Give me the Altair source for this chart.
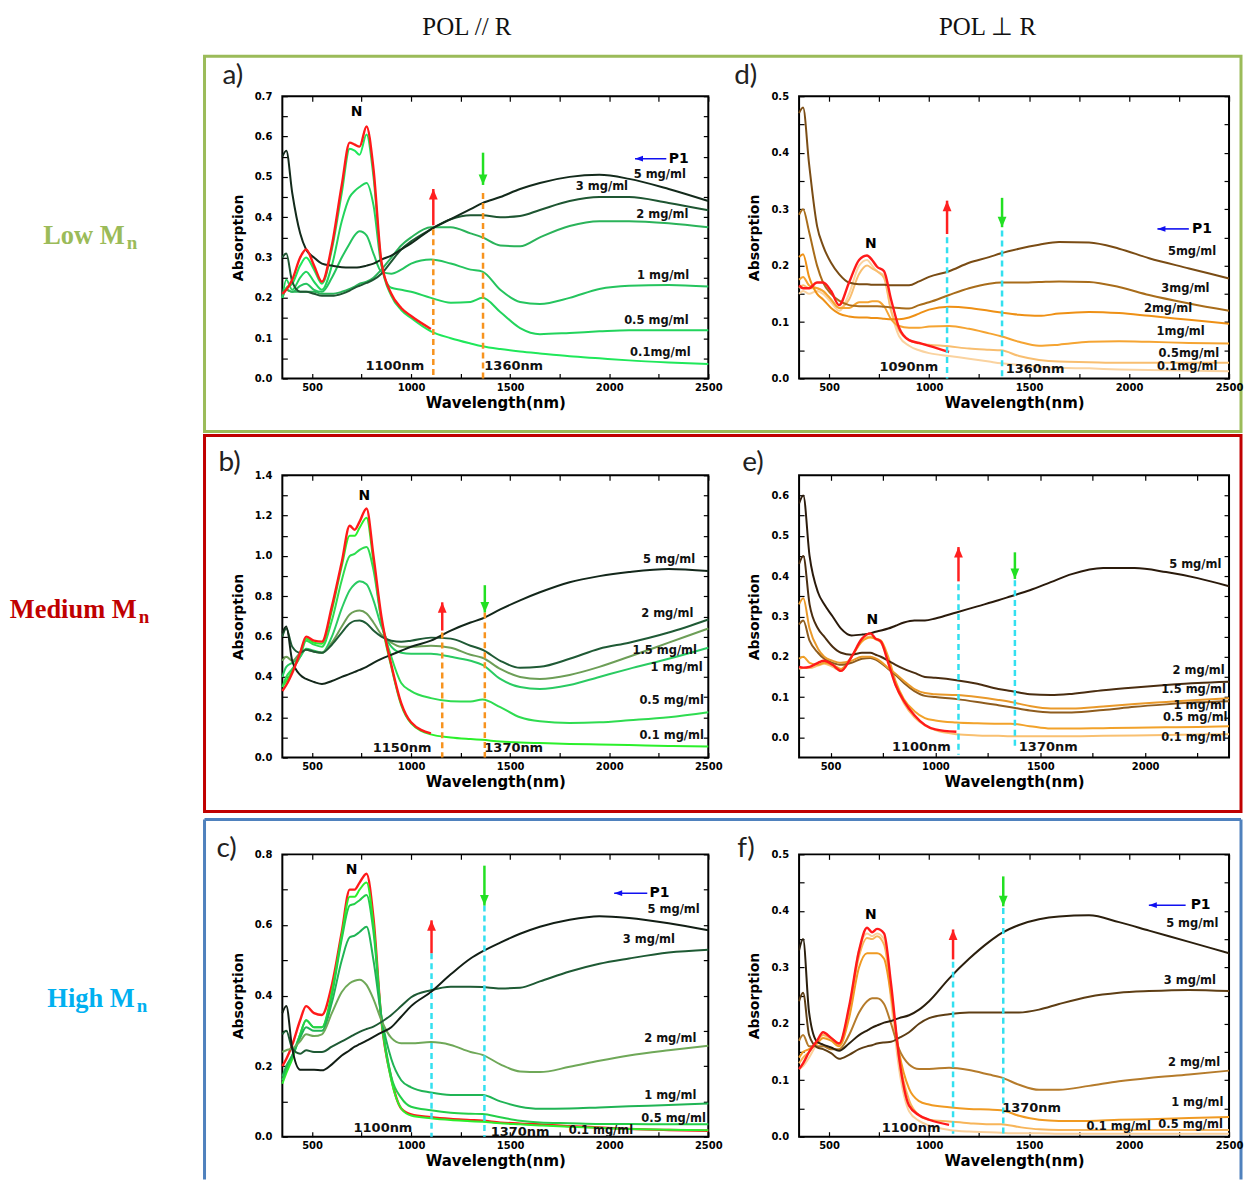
import altair as alt
import pandas as pd

# ---------------- wavelength grids ----------------
G = [350, 370, 400, 440, 470, 510, 550, 600, 650, 690, 715, 740, 775, 810, 850, 900, 950, 1000,
     1100, 1200, 1300, 1360, 1450, 1550, 1650, 1800, 1950, 2100, 2300, 2500]
GE = [350, 370, 400, 440, 470, 510, 550, 600, 650, 690, 715, 740, 775, 810, 850, 900, 950, 1000,
      1100, 1200, 1300, 1360, 1450, 1550, 1650, 1800, 1950, 2100, 2250, 2400]

# ---------------- panel a (Low Mn, POL // R) ----------------
A_NAMES = ["0.1 mg/ml", "0.5 mg/ml", "1 mg/ml", "2 mg/ml", "3 mg/ml", "5 mg/ml"]
A_RED = [0.21, 0.22, 0.245, 0.30, 0.32, 0.28, 0.24, 0.33, 0.48, 0.585, 0.58, 0.575, 0.625, 0.52, 0.29, 0.21, 0.175, 0.155, 0.123]
A_01 = [0.2, 0.225, 0.235, 0.28, 0.3, 0.27, 0.235, 0.32, 0.46, 0.57, 0.565, 0.555, 0.605, 0.5, 0.285, 0.205, 0.17, 0.15, 0.117, 0.1, 0.087, 0.08, 0.073, 0.067, 0.062, 0.055, 0.05, 0.045, 0.04, 0.036]
A_05 = [0.2, 0.245, 0.22, 0.25, 0.265, 0.24, 0.22, 0.28, 0.39, 0.45, 0.465, 0.475, 0.485, 0.43, 0.28, 0.225, 0.22, 0.215, 0.2, 0.188, 0.19, 0.2, 0.165, 0.125, 0.11, 0.113, 0.117, 0.12, 0.12, 0.12]
A_1 = [0.2, 0.22, 0.215, 0.23, 0.235, 0.22, 0.215, 0.25, 0.3, 0.335, 0.355, 0.365, 0.355, 0.31, 0.265, 0.26, 0.27, 0.285, 0.295, 0.285, 0.27, 0.265, 0.22, 0.19, 0.185, 0.2, 0.222, 0.23, 0.232, 0.228]
A_2 = [0.21, 0.22, 0.215, 0.215, 0.215, 0.215, 0.21, 0.21, 0.215, 0.222, 0.228, 0.235, 0.24, 0.25, 0.27, 0.3, 0.33, 0.35, 0.375, 0.375, 0.36, 0.35, 0.33, 0.328, 0.35, 0.378, 0.39, 0.39, 0.385, 0.375]
A_3 = [0.3, 0.31, 0.24, 0.215, 0.215, 0.21, 0.205, 0.205, 0.21, 0.218, 0.225, 0.23, 0.237, 0.245, 0.26, 0.29, 0.32, 0.34, 0.37, 0.395, 0.405, 0.405, 0.4, 0.403, 0.418, 0.44, 0.45, 0.45, 0.435, 0.417]
A_5 = [0.55, 0.565, 0.46, 0.36, 0.32, 0.3, 0.285, 0.28, 0.276, 0.275, 0.275, 0.276, 0.28, 0.285, 0.295, 0.305, 0.32, 0.335, 0.37, 0.395, 0.42, 0.435, 0.45, 0.47, 0.485, 0.5, 0.505, 0.495, 0.47, 0.44]
A_COLORS = ["#1FE85A", "#22D45C", "#25C45E", "#2BB35A", "#1E5632", "#132A1B"]

# ---------------- panel d (Low Mn, POL perp R) ----------------
D_NAMES = ["0.1mg/ml", "0.5mg/ml", "1mg/ml", "2mg/ml", "3mg/ml", "5mg/ml"]
D_RED = [0.165, 0.16, 0.16, 0.17, 0.17, 0.155, 0.13, 0.17, 0.21, 0.218, 0.21, 0.198, 0.19, 0.14, 0.09, 0.068, 0.063, 0.058, 0.047]
D_01 = [0.15, 0.155, 0.15, 0.155, 0.15, 0.135, 0.12, 0.15, 0.2, 0.21, 0.2, 0.19, 0.182, 0.12, 0.075, 0.058, 0.05, 0.045, 0.04, 0.035, 0.03, 0.027, 0.024, 0.021, 0.019, 0.018, 0.016, 0.015, 0.014, 0.013]
D_05 = [0.16, 0.165, 0.16, 0.16, 0.155, 0.14, 0.125, 0.14, 0.185, 0.2, 0.195, 0.19, 0.178, 0.12, 0.085, 0.068, 0.062, 0.06, 0.057, 0.053, 0.051, 0.05, 0.04, 0.033, 0.03, 0.029, 0.028, 0.028, 0.028, 0.028]
D_1 = [0.175, 0.18, 0.165, 0.16, 0.155, 0.14, 0.125, 0.125, 0.135, 0.135, 0.137, 0.137, 0.128, 0.105, 0.093, 0.09, 0.09, 0.092, 0.093, 0.088, 0.08, 0.075, 0.065, 0.058, 0.06, 0.065, 0.066, 0.065, 0.063, 0.062]
D_2 = [0.215, 0.22, 0.18, 0.15, 0.14, 0.125, 0.115, 0.11, 0.108, 0.108, 0.107, 0.107, 0.106, 0.105, 0.105, 0.108, 0.115, 0.122, 0.127, 0.125, 0.12, 0.117, 0.113, 0.111, 0.115, 0.118, 0.116, 0.111, 0.104, 0.097]
D_3 = [0.29, 0.3, 0.26, 0.2, 0.17, 0.15, 0.138, 0.13, 0.128, 0.128, 0.128, 0.128, 0.127, 0.126, 0.125, 0.124, 0.13, 0.135, 0.148, 0.16, 0.168, 0.17, 0.17, 0.171, 0.172, 0.171, 0.162, 0.148, 0.133, 0.12]
D_5 = [0.47, 0.48, 0.38, 0.27, 0.235, 0.205, 0.185, 0.17, 0.167, 0.167, 0.166, 0.166, 0.166, 0.165, 0.165, 0.165, 0.172, 0.18, 0.19, 0.205, 0.215, 0.222, 0.23, 0.237, 0.242, 0.241, 0.23, 0.213, 0.195, 0.177]
D_COLORS = ["#FAD3A0", "#F8BE70", "#F5A432", "#EE9015", "#A86C1A", "#7A4C14"]

# ---------------- panel b (Medium Mn, POL // R) ----------------
B_NAMES = ["0.1 mg/ml", "0.5 mg/ml", "1 mg/ml", "1.5 mg/ml", "2 mg/ml", "5 mg/ml"]
B_RED = [0.33, 0.36, 0.42, 0.52, 0.6, 0.58, 0.575, 0.75, 0.97, 1.15, 1.13, 1.17, 1.235, 1.0, 0.7, 0.46, 0.27, 0.175, 0.12]
B_01 = [0.35, 0.38, 0.43, 0.52, 0.59, 0.57, 0.565, 0.73, 0.95, 1.1, 1.1, 1.14, 1.19, 0.97, 0.68, 0.45, 0.26, 0.17, 0.115, 0.1, 0.092, 0.088, 0.08, 0.075, 0.072, 0.068, 0.065, 0.062, 0.058, 0.055]
B_05 = [0.35, 0.4, 0.44, 0.5, 0.58, 0.56, 0.55, 0.68, 0.88, 1.0, 1.01, 1.03, 1.045, 0.93, 0.68, 0.5, 0.37, 0.33, 0.295, 0.28, 0.278, 0.288, 0.25, 0.2, 0.18, 0.172, 0.175, 0.185, 0.2, 0.225]
B_1 = [0.4, 0.45, 0.47, 0.5, 0.54, 0.53, 0.52, 0.6, 0.74, 0.83, 0.86, 0.875, 0.86, 0.78, 0.65, 0.55, 0.52, 0.515, 0.515, 0.5, 0.48, 0.46, 0.39, 0.35, 0.34, 0.36, 0.4, 0.44, 0.49, 0.545]
B_15 = [0.48, 0.5, 0.48, 0.52, 0.535, 0.525, 0.52, 0.57, 0.65, 0.71, 0.725, 0.73, 0.715, 0.67, 0.61, 0.57, 0.55, 0.55, 0.555, 0.545, 0.51, 0.495, 0.44, 0.4, 0.39, 0.41, 0.45, 0.5, 0.57, 0.64]
B_2 = [0.6, 0.64, 0.55, 0.52, 0.535, 0.525, 0.52, 0.56, 0.62, 0.665, 0.678, 0.68, 0.665, 0.63, 0.6, 0.58, 0.575, 0.58, 0.595, 0.59, 0.555, 0.535, 0.48, 0.445, 0.45, 0.49, 0.54, 0.57, 0.62, 0.685]
B_5 = [0.62, 0.65, 0.48, 0.41, 0.39, 0.375, 0.365, 0.38, 0.4, 0.415, 0.425, 0.435, 0.45, 0.47, 0.49, 0.51, 0.53, 0.55, 0.58, 0.63, 0.67, 0.69, 0.735, 0.78, 0.82, 0.87, 0.9, 0.92, 0.935, 0.925]
B_COLORS = ["#2BF02B", "#2EDC50", "#2ACB62", "#6D9E57", "#1F5A35", "#13271A"]

# ---------------- panel e (Medium Mn, POL perp R) ----------------
E_NAMES = ["0.1 mg/ml", "0.5 mg/ml", "1 mg/ml", "1.5 mg/ml", "2 mg/ml", "5 mg/ml"]
E_RED = [0.175, 0.173, 0.175, 0.185, 0.19, 0.18, 0.165, 0.2, 0.245, 0.258, 0.245, 0.238, 0.185, 0.13, 0.09, 0.055, 0.031, 0.02, 0.014]
E_01 = [0.17, 0.172, 0.172, 0.178, 0.183, 0.175, 0.165, 0.2, 0.24, 0.25, 0.243, 0.235, 0.19, 0.13, 0.085, 0.05, 0.03, 0.018, 0.008, 0.005, 0.004, 0.003, 0.003, 0.003, 0.003, 0.004, 0.005, 0.006, 0.007, 0.008]
E_05 = [0.195, 0.2, 0.185, 0.18, 0.185, 0.18, 0.17, 0.2, 0.238, 0.248, 0.245, 0.24, 0.2, 0.14, 0.095, 0.065, 0.048, 0.042, 0.037, 0.035, 0.034, 0.034, 0.028, 0.022, 0.022, 0.023, 0.024, 0.025, 0.026, 0.028]
E_1 = [0.28, 0.29, 0.24, 0.21, 0.195, 0.185, 0.18, 0.185, 0.195, 0.197, 0.193, 0.185, 0.17, 0.155, 0.135, 0.115, 0.103, 0.1, 0.095, 0.088, 0.08, 0.075, 0.067, 0.062, 0.062, 0.068, 0.076, 0.082, 0.087, 0.09]
E_15 = [0.33, 0.345, 0.27, 0.22, 0.2, 0.19, 0.185, 0.19, 0.2, 0.2, 0.196, 0.188, 0.172, 0.158, 0.14, 0.12, 0.11, 0.107, 0.105, 0.1, 0.093, 0.088, 0.078, 0.072, 0.072, 0.077, 0.083, 0.088, 0.093, 0.097]
E_2 = [0.43, 0.45, 0.33, 0.27, 0.25, 0.225, 0.21, 0.205, 0.21, 0.21, 0.205, 0.2, 0.19, 0.18, 0.17, 0.16, 0.15, 0.148, 0.142, 0.133, 0.12, 0.115, 0.107, 0.105, 0.108, 0.117, 0.124, 0.13, 0.135, 0.138]
E_5 = [0.58, 0.6, 0.45, 0.36, 0.33, 0.3, 0.27, 0.253, 0.255, 0.258, 0.262, 0.265, 0.27, 0.277, 0.285, 0.29, 0.29, 0.295, 0.31, 0.325, 0.34, 0.35, 0.365, 0.385, 0.405, 0.42, 0.42, 0.41, 0.395, 0.375]
E_COLORS = ["#F9C070", "#F2A22A", "#8E5C1E", "#E9992A", "#4A2D10", "#2A1A0B"]

# ---------------- panel c (High Mn, POL // R) ----------------
C_NAMES = ["0.1 mg/ml", "0.5 mg/ml", "1 mg/ml", "2 mg/ml", "3 mg/ml", "5 mg/ml"]
C_RED = [0.2, 0.22, 0.26, 0.33, 0.37, 0.35, 0.345, 0.43, 0.58, 0.7, 0.7, 0.72, 0.745, 0.62, 0.33, 0.165, 0.08, 0.063, 0.055, 0.05, 0.047, 0.045, 0.04, 0.037, 0.035, 0.03, 0.026, 0.022, 0.019, 0.017]
C_01 = [0.15, 0.18, 0.22, 0.29, 0.33, 0.31, 0.31, 0.41, 0.57, 0.68, 0.68, 0.7, 0.72, 0.6, 0.33, 0.16, 0.08, 0.06, 0.052, 0.047, 0.044, 0.042, 0.038, 0.035, 0.032, 0.028, 0.025, 0.022, 0.02, 0.018]
C_05 = [0.16, 0.19, 0.23, 0.29, 0.33, 0.31, 0.31, 0.4, 0.56, 0.655, 0.66, 0.67, 0.685, 0.58, 0.34, 0.17, 0.11, 0.085, 0.075, 0.068, 0.065, 0.064, 0.055, 0.045, 0.04, 0.038, 0.036, 0.036, 0.035, 0.035]
C_1 = [0.17, 0.2, 0.23, 0.28, 0.31, 0.3, 0.3, 0.38, 0.5, 0.565, 0.57, 0.58, 0.595, 0.5, 0.34, 0.22, 0.16, 0.14, 0.125, 0.118, 0.118, 0.118, 0.1, 0.085, 0.079, 0.08, 0.083, 0.086, 0.09, 0.094]
C_2 = [0.24, 0.245, 0.25, 0.27, 0.29, 0.285, 0.29, 0.35, 0.41, 0.435, 0.442, 0.445, 0.43, 0.39, 0.33, 0.28, 0.265, 0.265, 0.268, 0.26, 0.24, 0.232, 0.205, 0.185, 0.183, 0.198, 0.215, 0.23, 0.245, 0.258]
C_3 = [0.29, 0.3, 0.25, 0.235, 0.245, 0.24, 0.24, 0.255, 0.27, 0.282, 0.29, 0.297, 0.305, 0.312, 0.325, 0.345, 0.37, 0.395, 0.415, 0.425, 0.425, 0.424, 0.42, 0.422, 0.44, 0.468, 0.49, 0.505, 0.522, 0.53]
C_5 = [0.35, 0.37, 0.25, 0.19, 0.19, 0.19, 0.188, 0.205, 0.23, 0.245, 0.255, 0.262, 0.272, 0.283, 0.295, 0.31, 0.34, 0.37, 0.41, 0.46, 0.505, 0.525, 0.55, 0.575, 0.595, 0.615, 0.625, 0.62, 0.605, 0.585]
C_COLORS = ["#2BF02B", "#23CF48", "#20B455", "#6FA858", "#1E5A34", "#121E15"]

# ---------------- panel f (High Mn, POL perp R) ----------------
F_NAMES = ["0.1 mg/ml", "0.5 mg/ml", "1 mg/ml", "2 mg/ml", "3 mg/ml", "5 mg/ml"]
F_RED = [0.12, 0.13, 0.15, 0.17, 0.185, 0.175, 0.165, 0.23, 0.33, 0.37, 0.362, 0.368, 0.36, 0.27, 0.14, 0.055, 0.038, 0.03, 0.021]
F_01 = [0.12, 0.125, 0.14, 0.165, 0.18, 0.172, 0.162, 0.225, 0.33, 0.36, 0.355, 0.36, 0.35, 0.24, 0.12, 0.045, 0.028, 0.02, 0.012, 0.009, 0.008, 0.007, 0.006, 0.006, 0.005, 0.005, 0.005, 0.005, 0.005, 0.005]
F_05 = [0.13, 0.14, 0.15, 0.17, 0.18, 0.175, 0.165, 0.225, 0.32, 0.352, 0.35, 0.355, 0.34, 0.26, 0.14, 0.065, 0.038, 0.03, 0.027, 0.024, 0.022, 0.022, 0.017, 0.013, 0.012, 0.012, 0.012, 0.012, 0.012, 0.012]
F_1 = [0.14, 0.15, 0.155, 0.165, 0.175, 0.17, 0.16, 0.21, 0.3, 0.325, 0.325, 0.325, 0.315, 0.25, 0.15, 0.085, 0.063, 0.057, 0.052, 0.049, 0.048, 0.047, 0.037, 0.03, 0.028, 0.028, 0.03, 0.031, 0.033, 0.035]
F_2 = [0.17, 0.18, 0.16, 0.16, 0.16, 0.155, 0.155, 0.18, 0.22, 0.24, 0.245, 0.245, 0.235, 0.2, 0.155, 0.128, 0.12, 0.12, 0.122, 0.118, 0.11, 0.105, 0.092, 0.083, 0.083, 0.09, 0.098, 0.104, 0.11, 0.117]
F_3 = [0.24, 0.255, 0.18, 0.158, 0.155, 0.148, 0.138, 0.145, 0.155, 0.16, 0.162, 0.165, 0.167, 0.168, 0.175, 0.185, 0.2, 0.21, 0.217, 0.22, 0.22, 0.22, 0.22, 0.225, 0.235, 0.248, 0.255, 0.258, 0.26, 0.258]
F_5 = [0.33, 0.35, 0.22, 0.168, 0.163, 0.158, 0.152, 0.165, 0.18, 0.188, 0.193, 0.197, 0.202, 0.205, 0.21, 0.215, 0.225, 0.24, 0.28, 0.315, 0.345, 0.36, 0.375, 0.385, 0.39, 0.392, 0.38, 0.365, 0.345, 0.325]
F_COLORS = ["#FAD09A", "#F7B55A", "#F09A22", "#B57B2B", "#5E3E14", "#2B1F0D"]

# ---------------- annotations (data coordinates) ----------------
A_LABELS = [("5 mg/ml", 2255, 0.505), ("3 mg/ml", 1963, 0.476), ("2 mg/ml", 2268, 0.405),
            ("1 mg/ml", 2272, 0.254), ("0.5 mg/ml", 2238, 0.143), ("0.1mg/ml", 2258, 0.063)]
D_LABELS = [("5mg/ml", 2315, 0.224), ("3mg/ml", 2282, 0.158), ("2mg/ml", 2195, 0.124),
            ("1mg/ml", 2258, 0.082), ("0.5mg/ml", 2299, 0.044), ("0.1mg/ml", 2291, 0.021)]
B_LABELS = [("5 mg/ml", 2302, 0.98), ("2 mg/ml", 2293, 0.714), ("1.5 mg/ml", 2280, 0.528),
            ("1 mg/ml", 2340, 0.445), ("0.5 mg/ml", 2315, 0.279), ("0.1 mg/ml", 2315, 0.106)]
E_LABELS = [("5 mg/ml", 2239, 0.428), ("2 mg/ml", 2255, 0.164), ("1.5 mg/ml", 2231, 0.117),
            ("1 mg/ml", 2260, 0.079), ("0.5 mg/ml", 2239, 0.048), ("0.1 mg/ml", 2231, -0.002)]
C_LABELS = [("5 mg/ml", 2325, 0.643), ("3 mg/ml", 2200, 0.557), ("2 mg/ml", 2308, 0.277),
            ("1 mg/ml", 2308, 0.116), ("0.5 mg/ml", 2325, 0.05), ("0.1 mg/ml", 1958, 0.016)]
F_LABELS = [("5 mg/ml", 2316, 0.377), ("3 mg/ml", 2304, 0.276), ("2 mg/ml", 2325, 0.131),
            ("1 mg/ml", 2341, 0.059), ("0.5 mg/ml", 2308, 0.021), ("0.1 mg/ml", 1948, 0.017)]

A_NM = [("1100nm", 918, 0.03), ("1360nm", 1518, 0.03)]
D_NM = [("1090nm", 899, 0.02), ("1360nm", 1530, 0.016)]
B_NM = [("1150nm", 955, 0.046), ("1370nm", 1518, 0.046)]
E_NM = [("1100nm", 933, -0.024), ("1370nm", 1538, -0.024)]
C_NM = [("1100nm", 858, 0.025), ("1370nm", 1550, 0.014)]
F_NM = [("1100nm", 910, 0.015), ("1370nm", 1513, 0.05)]

FONT = "DejaVu Sans"


def long_df(grid, names, lists):
    rows = []
    for n, vals in zip(names, lists):
        for x, y in zip(grid, vals):
            rows.append({"wl": x, "ab": y, "s": n})
    return pd.DataFrame(rows)


def one():
    return alt.Data(values=[{"k": 0}])


def dtext(txt, x, y, size, color, font, weight="normal", align="left", baseline="alphabetic"):
    return alt.Chart(one()).mark_text(text=txt, font=font, fontSize=size, fontWeight=weight,
                                      color=color, align=align, baseline=baseline).encode(
        x=alt.value(x), y=alt.value(y))


def drect(x, x2, y, y2, color, sw=3):
    return alt.Chart(one()).mark_rect(fillOpacity=0, stroke=color, strokeWidth=sw).encode(
        x=alt.value(x), x2=alt.value(x2), y=alt.value(y), y2=alt.value(y2))


def dhrule(x, x2, y, color, sw=3):
    return alt.Chart(one()).mark_rule(color=color, strokeWidth=sw).encode(
        x=alt.value(x), x2=alt.value(x2), y=alt.value(y))


def dvrule(x, y, y2, color, sw=3):
    return alt.Chart(one()).mark_rule(color=color, strokeWidth=sw).encode(
        x=alt.value(x), y=alt.value(y), y2=alt.value(y2))


def panel(cfg):
    w, h = cfg["w"], cfg["h"]
    xs = alt.Scale(domain=cfg["xdom"], nice=False, zero=False)
    ys = alt.Scale(domain=cfg["ydom"], nice=False, zero=False)
    xt = [v for v in range(250, 2751, 250) if cfg["xdom"][0] <= v <= cfg["xdom"][1]]
    yt = cfg["yticks"]
    ax_b = alt.Axis(orient="bottom", values=xt, format="d",
                    labelExpr="datum.value % 500 == 0 ? datum.label : ''",
                    offset=-5, tickSize=5, labelPadding=4, labelFlush=False, labelOverlap=False,
                    title="Wavelength(nm)", titleFontSize=15, titlePadding=3, domain=False, grid=False)
    ax_t = alt.Axis(orient="top", values=xt, labels=False, offset=-5, tickSize=5, title=None,
                    domain=False, grid=False)
    ax_l = alt.Axis(orient="left", values=yt, format=".1f", labelExpr=cfg["yexpr"],
                    offset=-5, tickSize=5, labelPadding=10.5, labelOverlap=False, labelFlush=False,
                    title="Absorption", titleFontSize=14, titlePadding=9, domain=False, grid=False)
    ax_r = alt.Axis(orient="right", values=yt, labels=False, offset=-5, tickSize=5, title=None,
                    domain=False, grid=False)

    df = long_df(cfg["grid"], cfg["names"], cfg["lists"])
    X = lambda f: alt.X(f, scale=xs, axis=None)
    Y = lambda f: alt.Y(f, scale=ys, axis=None)

    lines = alt.Chart(df).mark_line(strokeWidth=2, interpolate="monotone").encode(
        x=alt.X("wl:Q", scale=xs, axis=ax_b),
        y=alt.Y("ab:Q", scale=ys, axis=ax_l),
        color=alt.Color("s:N", scale=alt.Scale(domain=cfg["names"], range=cfg["colors"]), legend=None),
    )
    mirror = alt.Chart(df).mark_line(opacity=0).encode(
        x=alt.X("wl:Q", scale=xs, axis=ax_t), y=alt.Y("ab:Q", scale=ys, axis=ax_r))

    rdf = pd.DataFrame({"wl": cfg["grid"][:len(cfg["red"])], "ab": cfg["red"]})
    red = alt.Chart(rdf).mark_line(strokeWidth=2.4, color="#FF1A1A", interpolate="monotone").encode(
        x=X("wl:Q"), y=Y("ab:Q"))

    ddf = pd.DataFrame({"x": cfg["dash_x"], "y": cfg["dash_top"], "y2": cfg["dash_bot"]})
    dash = alt.Chart(ddf).mark_rule(strokeDash=[6, 4], strokeWidth=2.5, color=cfg["dash_color"]).encode(
        x=X("x:Q"), y=Y("y:Q"), y2="y2:Q")

    ux, uy0, uy1 = cfg["up"]
    udf = pd.DataFrame({"x": [ux], "y": [uy0], "y2": [uy1]})
    up_s = alt.Chart(udf).mark_rule(strokeWidth=2.5, color="#FF2020").encode(x=X("x:Q"), y=Y("y:Q"), y2="y2:Q")
    up_h = alt.Chart(udf).mark_point(shape="M0,0L-0.42,1L0.42,1Z", size=440, filled=True, opacity=1,
                                     color="#FF2020").encode(x=X("x:Q"), y=Y("y2:Q"))
    dx, dy0, dy1 = cfg["down"]
    gdf = pd.DataFrame({"x": [dx], "y": [dy0], "y2": [dy1]})
    dn_s = alt.Chart(gdf).mark_rule(strokeWidth=2.5, color="#22E022").encode(x=X("x:Q"), y=Y("y:Q"), y2="y2:Q")
    dn_h = alt.Chart(gdf).mark_point(shape="M0,0L-0.42,-1L0.42,-1Z", size=440, filled=True, opacity=1,
                                     color="#22E022").encode(x=X("x:Q"), y=Y("y2:Q"))

    ndf = pd.DataFrame({"x": [cfg["n"][0]], "y": [cfg["n"][1]], "t": ["N"]})
    ntext = alt.Chart(ndf).mark_text(font=FONT, fontWeight="bold", fontSize=14, color="black",
                                     baseline="middle").encode(x=X("x:Q"), y=Y("y:Q"), text="t:N")

    ldf = pd.DataFrame(cfg["labels"], columns=["t", "x", "y"])
    ltext = alt.Chart(ldf).mark_text(font=FONT, fontWeight="bold", fontSize=11.5, color="#111",
                                     baseline="middle").encode(x=X("x:Q"), y=Y("y:Q"), text="t:N")
    mdf = pd.DataFrame(cfg["nm"], columns=["t", "x", "y"])
    mtext = alt.Chart(mdf).mark_text(font=FONT, fontWeight="bold", fontSize=13, color="#111",
                                     baseline="middle").encode(x=X("x:Q"), y=Y("y:Q"), text="t:N")

    if cfg["red_top"]:
        layers = [lines, mirror, red]
    else:
        layers = [red, lines, mirror]
    layers += [dash, up_s, up_h, dn_s, dn_h, ntext, ltext, mtext]

    if cfg.get("p1"):
        x1, x2, py, tx = cfg["p1"]
        pdf = pd.DataFrame({"x": [x1], "x2": [x2], "y": [py], "tx": [tx], "t": ["P1"]})
        layers.append(alt.Chart(pdf).mark_rule(strokeWidth=1.6, color="#1010F0").encode(
            x=X("x:Q"), x2="x2:Q", y=Y("y:Q")))
        layers.append(alt.Chart(pdf).mark_point(shape="M0,0L1,-0.36L1,0.36Z", size=256, filled=True,
                                                opacity=1, color="#1010F0").encode(x=X("x2:Q"), y=Y("y:Q")))
        layers.append(alt.Chart(pdf).mark_text(font=FONT, fontWeight="bold", fontSize=14, color="black",
                                               align="left", baseline="middle").encode(
            x=X("tx:Q"), y=Y("y:Q"), text="t:N"))

    layers += cfg["deco"]
    return alt.layer(*layers).resolve_axis(x="independent", y="independent").properties(width=w, height=h)


def yticks(lo, hi, step):
    n = int(round((hi - lo) / step))
    return [round(lo + i * step, 3) for i in range(n + 1)]


EXPR_01 = "round(datum.value*100) % 10 == 0 ? datum.label : ''"
EXPR_02 = "round(datum.value*10) % 2 == 0 ? datum.label : ''"
ORANGE = "#F7931E"
CYAN = "#33E0F0"
WL, WR, H = 427, 431, 283
SERIF = "Liberation Serif"
LETTER = "Lato"
RIGHT = 961  # right edge of the row frames, relative to the left panel origin

pa = panel(dict(
    w=WL, h=H, xdom=[350, 2500], ydom=[0, 0.7], yticks=yticks(0, 0.7, 0.05), yexpr=EXPR_01,
    grid=G, names=A_NAMES, lists=[A_01, A_05, A_1, A_2, A_3, A_5], colors=A_COLORS, red=A_RED, red_top=True,
    dash_x=[1112, 1363], dash_top=[0.37, 0.46], dash_bot=[0, 0], dash_color=ORANGE,
    up=(1112, 0.38, 0.47), down=(1363, 0.56, 0.48), n=(725, 0.66),
    labels=A_LABELS, nm=A_NM, p1=(2288, 2130, 0.545, 2300),
    deco=[
        alt.Chart(one()).mark_rect(fill="white", opacity=1).encode(
            x=alt.value(-273), x2=alt.value(-272), y=alt.value(-86), y2=alt.value(-85)),
        dtext("POL // R", 185, -81, 25, "#111", SERIF, align="center", baseline="top"),
        dtext("Low M", -158, 148, 26.5, "#9BBB59", SERIF, weight="bold", align="right"),
        dtext("n", -156, 153, 19, "#9BBB59", SERIF, weight="bold"),
        drect(-78, RIGHT, -40, 336, "#9BBB59"),
        dtext("a)", -60, -12, 28, "#222", LETTER),
    ]))

pd_ = panel(dict(
    w=WR, h=H, xdom=[350, 2500], ydom=[0, 0.5], yticks=yticks(0, 0.5, 0.05), yexpr=EXPR_01,
    grid=G, names=D_NAMES, lists=[D_01, D_05, D_1, D_2, D_3, D_5], colors=D_COLORS, red=D_RED, red_top=True,
    dash_x=[1090, 1365], dash_top=[0.25, 0.262], dash_bot=[0, 0], dash_color=CYAN,
    up=(1090, 0.256, 0.315), down=(1365, 0.32, 0.268), n=(709, 0.238),
    labels=D_LABELS, nm=D_NM, p1=(2299, 2142, 0.265, 2315),
    deco=[
        dtext("POL \u22a5 R", 189, -81, 25, "#111", SERIF, align="center", baseline="top"),
        dtext("d)", -65, -12, 28, "#222", LETTER),
    ]))

pb = panel(dict(
    w=WL, h=H, xdom=[350, 2500], ydom=[0, 1.4], yticks=yticks(0, 1.4, 0.1), yexpr=EXPR_02,
    grid=G, names=B_NAMES, lists=[B_01, B_05, B_1, B_15, B_2, B_5], colors=B_COLORS, red=B_RED, red_top=True,
    dash_x=[1157, 1372], dash_top=[0.62, 0.72], dash_bot=[0, 0], dash_color=ORANGE,
    up=(1157, 0.63, 0.77), down=(1372, 0.855, 0.72), n=(764, 1.296),
    labels=B_LABELS, nm=B_NM, p1=None,
    deco=[
        dtext("Medium M", -146, 143, 26.5, "#C00000", SERIF, weight="bold", align="right"),
        dtext("n", -144, 148, 19, "#C00000", SERIF, weight="bold"),
        drect(-78, RIGHT, -40, 337, "#C00000"),
        dtext("b)", -64, -4, 28, "#222", LETTER),
    ]))

pe = panel(dict(
    w=WR, h=H, xdom=[350, 2400], ydom=[-0.05, 0.65], yticks=yticks(0, 0.6, 0.05), yexpr=EXPR_01,
    grid=GE, names=E_NAMES, lists=[E_01, E_05, E_1, E_15, E_2, E_5], colors=E_COLORS, red=E_RED, red_top=True,
    dash_x=[1110, 1379], dash_top=[0.38, 0.39], dash_bot=[-0.043, -0.03], dash_color=CYAN,
    up=(1110, 0.387, 0.472), down=(1379, 0.459, 0.393), n=(699, 0.292),
    labels=E_LABELS, nm=E_NM, p1=None,
    deco=[dtext("e)", -57, -4, 28, "#222", LETTER)]))

pc = panel(dict(
    w=WL, h=H, xdom=[350, 2500], ydom=[0, 0.8], yticks=yticks(0, 0.8, 0.1), yexpr=EXPR_02,
    grid=G, names=C_NAMES, lists=[C_01, C_05, C_1, C_2, C_3, C_5], colors=C_COLORS, red=C_RED, red_top=False,
    dash_x=[1103, 1370], dash_top=[0.52, 0.655], dash_bot=[0, 0], dash_color=CYAN,
    up=(1103, 0.52, 0.613), down=(1370, 0.768, 0.655), n=(700, 0.755),
    labels=C_LABELS, nm=C_NM, p1=(2192, 2025, 0.69, 2203),
    deco=[
        dtext("High M", -148, 153, 26.5, "#00B0F0", SERIF, weight="bold", align="right"),
        dtext("n", -146, 158, 19, "#00B0F0", SERIF, weight="bold"),
        dhrule(-78, RIGHT, -35, "#4F81BD"),
        dvrule(-78, -35, 326, "#4F81BD"),
        dvrule(RIGHT, -35, 326, "#4F81BD"),
        dtext("c)", -66, 3, 28, "#222", LETTER),
    ]))

pf = panel(dict(
    w=WR, h=H, xdom=[350, 2500], ydom=[0, 0.5], yticks=yticks(0, 0.5, 0.05), yexpr=EXPR_01,
    grid=G, names=F_NAMES, lists=[F_01, F_05, F_1, F_2, F_3, F_5], colors=F_COLORS, red=F_RED, red_top=True,
    dash_x=[1120, 1371], dash_top=[0.31, 0.405], dash_bot=[0.005, 0.005], dash_color=CYAN,
    up=(1120, 0.314, 0.367), down=(1371, 0.461, 0.408), n=(709, 0.393),
    labels=F_LABELS, nm=F_NM, p1=(2283, 2099, 0.41, 2308),
    deco=[dtext("f)", -62, 3, 28, "#222", LETTER)]))

chart = alt.concat(
    pa, pd_, pb, pe, pc, pf, columns=2,
    spacing={"row": 97, "column": 91}, bounds="flush", align="each", padding=0,
).resolve_scale(x="independent", y="independent", color="independent").configure_view(
    stroke="black", strokeWidth=2
).configure_axis(
    labelFont=FONT, labelFontWeight="bold", labelFontSize=10, labelColor="black",
    titleFont=FONT, titleFontWeight="bold", titleColor="black",
    tickColor="black", tickWidth=1.2,
)

chart.save("out.html", embed_options={"renderer": "svg", "actions": False})
